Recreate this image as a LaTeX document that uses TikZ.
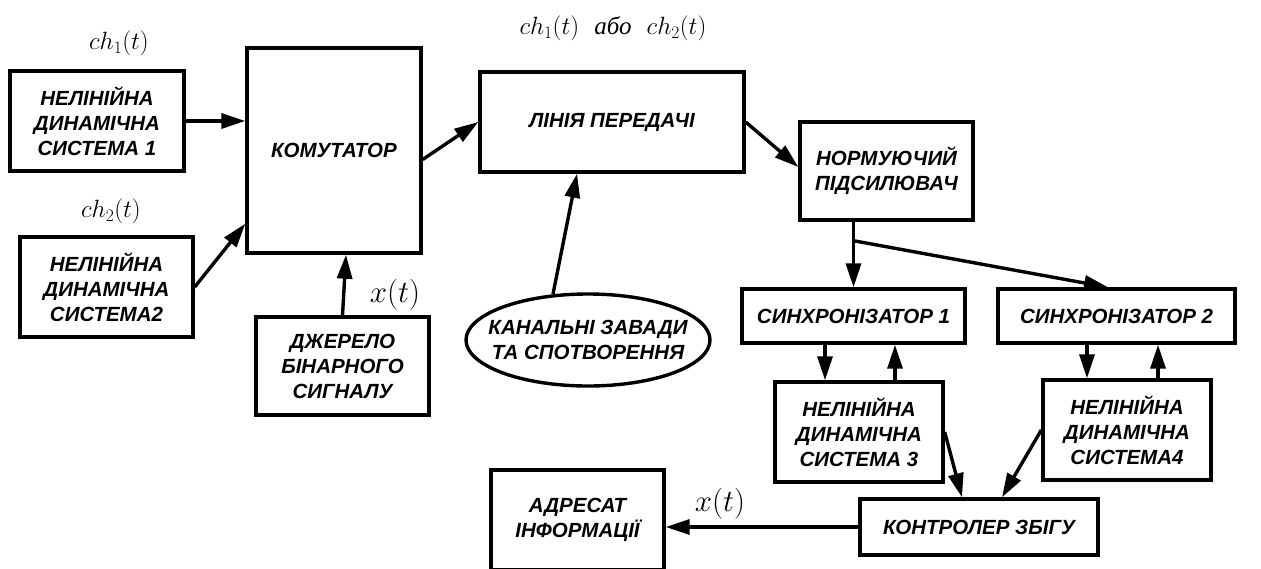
\documentclass[tikz,border=0pt]{standalone}
\usepackage{fix-cm}
\usepackage{fontspec}
\newfontfamily\blkfont{Liberation Sans}
\newfontfamily\serfont{Liberation Serif}
\usetikzlibrary{arrows.meta,calc}

\begin{document}
\begin{tikzpicture}[x=1pt, y=-1pt,
        blk/.style={draw, rectangle, line width=3.4pt, align=center, inner sep=0pt,
                    font=\blkfont\bfseries\itshape\fontsize{20.5}{25}\selectfont},
        sig/.style={font=\fontsize{25}{28}\selectfont},
        sigx/.style={font=\fontsize{31}{34}\selectfont},
        arr/.style={line width=3.4pt, -{Triangle[length=24pt,width=15pt]}}
    ]
        \clip (0,0) rectangle (1261,568);

        % transmitter side
        \node[blk, minimum width=174, minimum height=100] (ds1) at (97,121) {НЕЛІНІЙНА\\ДИНАМІЧНА\\СИСТЕМА 1};
        \node[blk, minimum width=173, minimum height=100] (ds2) at (106.5,287) {НЕЛІНІЙНА\\ДИНАМІЧНА\\СИСТЕМА2};
        \node[blk, minimum width=174, minimum height=205] (kom) at (334,150.5) {КОМУТАТОР};
        \node[blk, minimum width=173, minimum height=98] (src) at (342.5,366) {ДЖЕРЕЛО\\БІНАРНОГО\\СИГНАЛУ};
        \node[blk, minimum width=264, minimum height=100] (lin) at (612,122) {ЛІНІЯ ПЕРЕДАЧІ};
        \node[blk, draw=none] (ns) at (588,340) {КАНАЛЬНІ ЗАВАДИ\\ТА СПОТВОРЕННЯ};
        \draw[line width=3.4pt] (ns) ellipse [x radius=122, y radius=46];

        % receiver side
        \node[blk, minimum width=173, minimum height=98] (amp) at (886.5,171) {НОРМУЮЧИЙ\\ПІДСИЛЮВАЧ};
        \node[blk, minimum width=223, minimum height=54] (sy1) at (853.5,316) {СИНХРОНІЗАТОР 1};
        \node[blk, minimum width=237, minimum height=54] (sy2) at (1116.5,316) {СИНХРОНІЗАТОР 2};
        \node[blk, minimum width=168, minimum height=100] (ds3) at (859,432) {НЕЛІНІЙНА\\ДИНАМІЧНА\\СИСТЕМА 3};
        \node[blk, minimum width=168, minimum height=100] (ds4) at (1127,430) {НЕЛІНІЙНА\\ДИНАМІЧНА\\СИСТЕМА4};
        \node[blk, minimum width=238, minimum height=56] (ctl) at (979,527) {КОНТРОЛЕР ЗБІГУ};
        \node[blk, minimum width=173, minimum height=100] (dst) at (577.5,520) {АДРЕСАТ\\ІНФОРМАЦІЇ};

        % signal labels
        \node[sig] (l1) at (119,43) {$ch_1(t)$};
        \node[sig] (l2) at (111,211) {$ch_2(t)$};
        \node[sig] (l3) at (613,28) {$ch_1(t)$\ \ {\serfont\itshape або}\ \ $ch_2(t)$};
        \node[sigx] (lx1) at (395,295) {$x(t)$};
        \node[sigx] (lx2) at (720,504) {$x(t)$};

        \draw[arr] (ds1.east) -- (ds1.east -| kom.west);
        \draw[arr] (ds2.east) -- ([yshift=31pt]kom.south west);
        \draw[arr] (src.north) -- ([xshift=12pt]kom.south);
        \draw[arr] ([yshift=-9pt]kom.east) -- (lin.west);
        \draw[arr] ($(ns)+(-35,-46)$) -- ([xshift=-35pt]lin.south);
        \draw[arr] (lin.east) -- ([yshift=4pt]amp.west);

        \coordinate (br) at ($(sy1.north |- amp.south)+(0,19)$);
        \draw[arr] (sy1.north |- amp.south) -- (sy1.north);
        \draw[arr] (br) -- ([xshift=-8.5pt]sy2.north);

        \draw[arr] ([xshift=-28.5pt]sy1.south) -- ([xshift=-28.5pt]sy1.south |- ds3.north);
        \draw[arr] ([xshift=41.5pt]sy1.south |- ds3.north) -- ([xshift=41.5pt]sy1.south);
        \draw[arr] ([xshift=-29.5pt]sy2.south) -- ([xshift=-29.5pt]sy2.south |- ds4.north);
        \draw[arr] ([xshift=41.5pt]sy2.south |- ds4.north) -- ([xshift=41.5pt]sy2.south);

        \draw[arr] (ds3.east) -- ([xshift=-17pt]ctl.north);
        \draw[arr] (ds4.west) -- ([xshift=23pt]ctl.north);
        \draw[arr] (ctl.west) -- (ctl.west -| dst.east);
    \end{tikzpicture}
\end{document}
